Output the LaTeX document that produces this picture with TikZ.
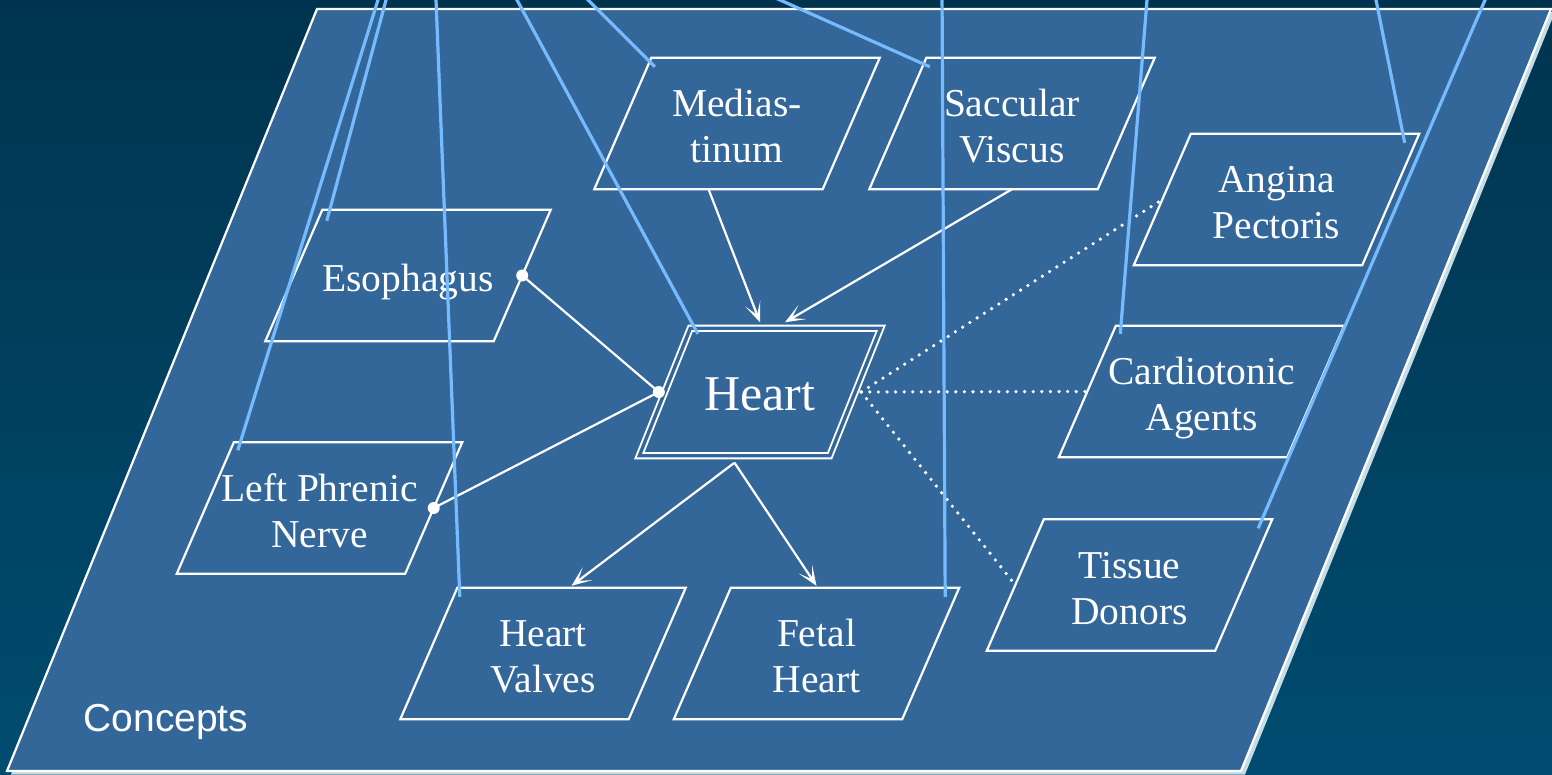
\documentclass[tikz,border=0pt]{standalone}
\usepackage{fontspec}
\setmainfont{Liberation Serif}
\setsansfont{Liberation Sans}
\usetikzlibrary{arrows.meta,calc}
\definecolor{bgtop}{RGB}{0,52,78}
\definecolor{bgbot}{RGB}{0,76,112}
\definecolor{plane}{RGB}{51,102,153}
\definecolor{planeshadow}{RGB}{196,220,230}
\definecolor{xlinkcol}{RGB}{119,187,255}
\newcommand\hs{\rule{0pt}{41pt}}
\newcommand\ds{\rule[-9pt]{0pt}{9pt}}
\newcommand\parabox[2]{%
  \draw[cborder] ([xshift=#2]#1.north west) -- ([xshift=#2]#1.north east)
    -- ([xshift=-#2]#1.south east) -- ([xshift=-#2]#1.south west) -- cycle;}
\tikzset{
  cbox/.style={minimum width=228pt, minimum height=131pt, inner sep=0pt,
    align=center, text=white, font=\fontsize{39.5}{46}\selectfont},
  cborder/.style={draw=white, line width=2.2pt},
  heartbox/.style={minimum width=190pt, minimum height=127pt, inner sep=0pt,
    text=white, font=\fontsize{50}{60}\selectfont},
  rel/.style={draw=white, line width=2.2pt},
  isa/.style={rel, -{Stealth[length=20pt,width=16pt,inset=12pt]}},
  assoc/.style={draw=white, line width=3.6pt, line cap=round,
    dash pattern=on 0pt off 8.6pt},
  xlink/.style={draw=xlinkcol, line width=3.2pt},
}
\begin{document}
\begin{tikzpicture}[x=1pt,y=-1pt]
\useasboundingbox (0,0) rectangle (1552,775);
\clip (0,0) rectangle (1552,775);
\shade[top color=bgtop, bottom color=bgbot] (0,0) rectangle (1552,775);
% plane
\fill[planeshadow] (321,12) -- (1555,12) -- (1245,774.5) -- (11,774.5) -- cycle;
\filldraw[fill=plane, draw=white, line width=2.2pt]
  (317,9) -- (1551,9) -- (1241,771) -- (7,771) -- cycle;
\node[anchor=base west, text=white, font=\sffamily\fontsize{39}{46}\selectfont]
  (lbl) at (80,731) {Concepts};
% concepts
\node[cbox] (med) at (737,123.5) {\hs Medias-\\tinum\ds};
\node[cbox] (sac) at (1012,123.5) {\hs Saccular\\Viscus\ds};
\node[cbox] (ang) at (1276.5,199.5) {\hs Angina\\Pectoris\ds};
\node[cbox] (eso) at (408,275.5) {\hs Esophagus\ds};
\node[cbox] (lpn) at (319.5,508) {\hs Left Phrenic\\Nerve\ds};
\node[heartbox] (heart) at (760,392) {\rule[-10pt]{0pt}{56pt}Heart};
\node[cbox] (card) at (1201.5,391.5) {\hs Cardiotonic\\Agents\ds};
\node[cbox] (tis) at (1129.5,585) {\hs Tissue\\Donors\ds};
\node[cbox] (hv) at (543,653.5) {\hs Heart\\Valves\ds};
\node[cbox] (fh) at (816.5,653.5) {\hs Fetal\\Heart\ds};
\foreach \n in {med,sac,ang,eso,lpn,card,tis,hv,fh} {\parabox{\n}{28.5pt}}
\draw[draw=white, line width=1.9pt, double=plane, double distance=3.4pt]
  ([xshift=25.5pt]heart.north west) -- ([xshift=25.5pt]heart.north east)
  -- ([xshift=-25.5pt]heart.south east) -- ([xshift=-25.5pt]heart.south west) -- cycle;
% relations
\coordinate (hw) at ([xshift=-6pt]heart.west);
\coordinate (hs) at ([xshift=-25.5pt,yshift=-7pt]heart.south);
\draw[rel] (eso.east) -- (hw);
\draw[rel] (lpn.east) -- (hw);
\fill[white] (eso.east) circle (6pt) (lpn.east) circle (6pt) (hw) circle (6pt);
\draw[isa] ([xshift=-28.5pt]med.south) -- ([yshift=6pt]heart.north);
\draw[isa] (sac.south) -- ([xshift=25pt,yshift=6pt]heart.north);
\draw[isa] (hs) -- ([xshift=28.5pt,yshift=2pt]hv.north);
\draw[isa] (hs) -- ([yshift=2pt]fh.north);
\coordinate (he) at ([xshift=6pt]heart.east);
\draw[assoc] (he) -- (ang.west);
\draw[assoc] (he) -- (card.west);
\draw[assoc] (he) -- (tis.west);
% links from above
\coordinate (tA) at (388.7,-10);
\coordinate (tB) at (381.1,-10);
\coordinate (tC) at (435.6,-10);
\coordinate (tD) at (511.6,-10);
\coordinate (tE) at (578,-10);
\coordinate (tF) at (757.6,-10);
\coordinate (tG) at (942,-10);
\coordinate (tH) at (1147.8,-10);
\coordinate (tI) at (1374,-10);
\coordinate (tJ) at (1489.3,-10);
\draw[xlink] (tA) -- ($(eso.north west)+(33,11)$);
\draw[xlink] (tB) -- ($(lpn.north west)+(32.5,8)$);
\draw[xlink] (tC) -- ($(hv.north west)+(31,9)$);
\draw[xlink] (tD) -- ($(heart.north west)+(33,5.5)$);
\draw[xlink] (tE) -- ($(med.north west)+(32,9)$);
\draw[xlink] (tF) -- ($(sac.north west)+(32,9)$);
\draw[xlink] (tG) -- ($(fh.north east)+(14.5,9)$);
\draw[xlink] (tH) -- ($(card.north west)+(33,8)$);
\draw[xlink] (tI) -- ($(ang.north east)+(14,9)$);
\draw[xlink] (tJ) -- ($(tis.north east)+(14.5,9)$);
\end{tikzpicture}
\end{document}
